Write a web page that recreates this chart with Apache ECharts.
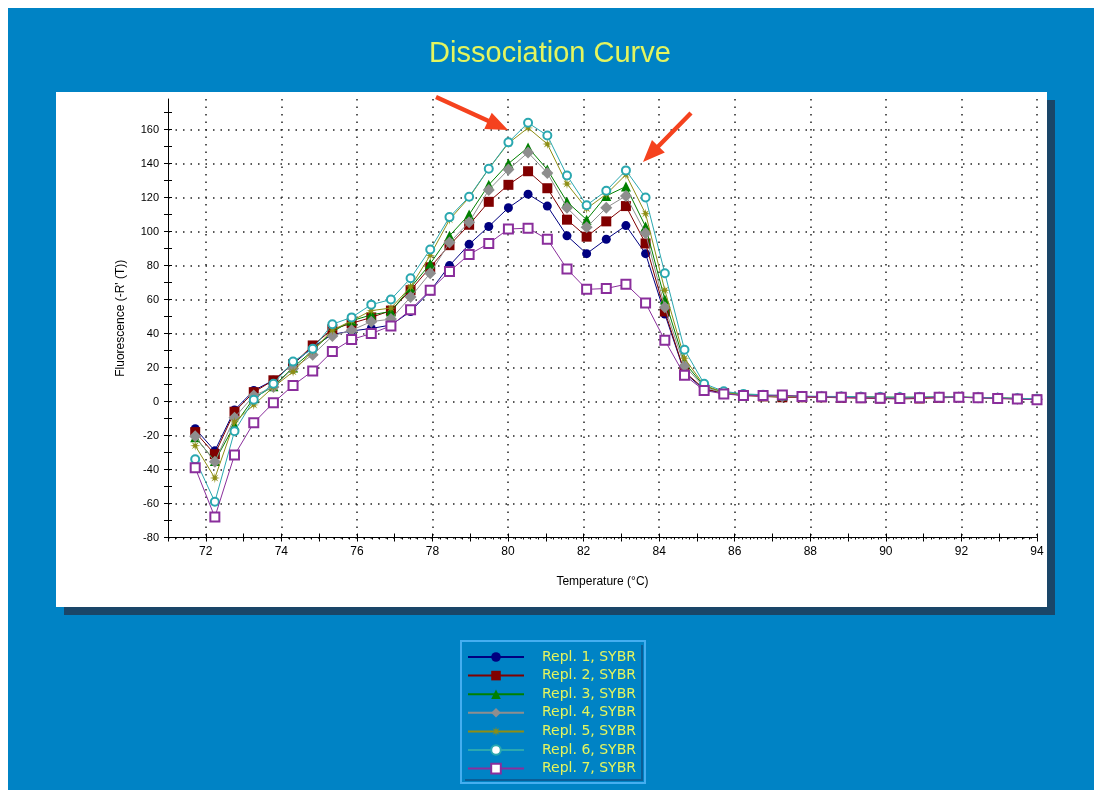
<!DOCTYPE html>
<html>
<head>
<meta charset="utf-8">
<title>Dissociation Curve</title>
<script src="https://cdn.jsdelivr.net/npm/echarts@6/dist/echarts.min.js"></script>
<style>
  html, body { margin: 0; padding: 0; background: #ffffff; }
  #chart { width: 1100px; height: 794px; }
</style>
</head>
<body>
<div id="chart"></div>
<script>
// Melt temperatures (°C) of the readings
const temps = [71.72, 72.24, 72.76, 73.27, 73.79, 74.31, 74.83, 75.35, 75.86, 76.38,
  76.90, 77.42, 77.94, 78.45, 78.97, 79.49, 80.01, 80.53, 81.04, 81.56,
  82.08, 82.60, 83.12, 83.64, 84.15, 84.67, 85.19, 85.71, 86.23, 86.75,
  87.26, 87.78, 88.30, 88.82, 89.34, 89.85, 90.37, 90.89, 91.41, 91.93,
  92.44, 92.96, 93.48, 94.00];

const seriesNames = ['Repl. 1, SYBR', 'Repl. 2, SYBR', 'Repl. 3, SYBR', 'Repl. 4, SYBR',
  'Repl. 5, SYBR', 'Repl. 6, SYBR', 'Repl. 7, SYBR'];

// -R'(T) for each replicate
const repl1 = [-16, -29, -5, 6.5, 12.5, 22, 32, 39.5, 41.5, 43, 45, 53, 65, 80, 92.5, 103, 114, 122, 115, 97.5,
  87, 95.5, 103.5, 87, 51.5, 17, 7, 5, 4, 3.5, 3, 3, 2.8, 2.5, 2.5, 2.2, 2.2, 2.4, 2.5, 2.5, 2.3, 2, 1.6, 1.2];
const repl2 = [-18, -31, -6, 5.5, 12.5, 22, 33, 42.5, 46, 49.5, 53.5, 65.5, 79, 92, 104, 117.5, 127.5, 135.5, 125.5, 107,
  97, 106, 115, 93, 53, 17.5, 7.5, 5, 3.5, 3, 2.5, 2.5, 2.5, 2.2, 2, 1.8, 1.5, 1.8, 2.2, 2.5, 2.2, 1.8, 1.5, 1.2];
const repl3 = [-21, -35, -14, 2, 9, 20, 30, 41, 47.5, 51, 53, 67, 81, 97.5, 110, 127.5, 140, 149.5, 136.5, 117.5,
  107, 121, 126.5, 103, 60, 23, 9, 5.5, 4, 3.5, 3.2, 3, 3, 2.8, 2.7, 2.6, 2.5, 2.5, 2.6, 2.6, 2.4, 2.1, 1.8, 1.5];
const repl4 = [-20.5, -35.5, -9.5, 3.5, 8.5, 19.5, 27.5, 38.5, 42, 47, 48.5, 61.5, 75.5, 93.5, 105.5, 124.5, 136.5, 146.5, 134.5, 114,
  102.5, 114, 121, 99, 55.5, 21, 8.5, 5, 3.8, 3.3, 3, 2.8, 2.8, 2.6, 2.5, 2.4, 2.3, 2.4, 2.5, 2.5, 2.3, 2, 1.7, 1.4];
const repl5 = [-26, -45, -12, -2, 8.5, 17.5, 30, 42, 47.5, 53.5, 55, 67.5, 86, 107, 120, 137, 152, 161, 151.5, 128,
  113.5, 122, 133.5, 110.5, 65.5, 25.5, 9.5, 5.5, 4, 3.5, 3.2, 3, 2.9, 2.8, 2.7, 2.5, 2.4, 2.5, 2.6, 2.6, 2.4, 2.2, 1.8, 1.5];
const repl6 = [-34, -59, -17.5, 1, 10.5, 23.5, 31, 45.5, 49.5, 57, 60, 72.5, 89.5, 108.5, 120.5, 137, 152.5, 164, 156.5, 133,
  115.5, 124, 136, 120, 75.5, 30.5, 10.5, 6, 4.5, 4, 3.5, 3.2, 3, 3, 2.8, 2.6, 2.5, 2.6, 2.7, 2.6, 2.4, 2.2, 1.9, 1.6];
const repl7 = [-39, -68, -31.5, -12.5, -0.7, 9.5, 18, 29.5, 36.5, 40, 44.5, 54, 65.5, 76.5, 86.5, 93, 101.5, 102, 95.5, 78,
  66, 66.5, 69, 58, 36, 15.5, 6.5, 4.5, 3.5, 3.5, 3.8, 3, 2.8, 2.5, 2.2, 2, 1.8, 2.2, 2.5, 2.5, 2.2, 1.8, 1.5, 1];

// Axis tick values
const xLabelVals = [72, 74, 76, 78, 80, 82, 84, 86, 88, 90, 92, 94];
const xTickVals = [71, 72, 73, 74, 75, 76, 77, 78, 79, 80, 81, 82, 83, 84, 85, 86, 87, 88, 89, 90, 91, 92, 93, 94];
const yLabelVals = [-80, -60, -40, -20, 0, 20, 40, 60, 80, 100, 120, 140, 160];
const yTickVals = [-80, -70, -60, -50, -40, -30, -20, -10, 0, 10, 20, 30, 40, 50, 60, 70, 80, 90, 100, 110, 120, 130, 140, 150, 160, 170];

const values = [repl1, repl2, repl3, repl4, repl5, repl6, repl7];

const starPath = 'path://M0,-10 L1.34,-3.23 L7.07,-7.07 L3.23,-1.34 L10,0 L3.23,1.34 L7.07,7.07 L1.34,3.23 L0,10 L-1.34,3.23 L-7.07,7.07 L-3.23,1.34 L-10,0 L-3.23,-1.34 L-7.07,-7.07 L-1.34,-3.23 Z';

const styles = [
  { color: '#000080', symbol: 'circle', size: 9 },
  { color: '#800000', symbol: 'rect', size: 10 },
  { color: '#008000', symbol: 'triangle', size: 10 },
  { color: '#8e8e8e', symbol: 'diamond', size: 12 },
  { color: '#8e8e14', symbol: starPath, size: 10 },
  { color: '#2aa8b0', symbol: 'emptyCircle', size: 8 },
  { color: '#8a2e9c', symbol: 'emptyRect', size: 9 }
];

const BLUE = '#0083c5';
const YELLOW = '#e4f55e';
const tickFont = "'Liberation Sans Narrow', 'Liberation Sans', Arial, sans-serif";

const series = values.map((vals, k) => ({
  name: seriesNames[k],
  type: 'line',
  data: temps.map((t, i) => [t, vals[i]]),
  symbol: styles[k].symbol,
  symbolSize: styles[k].size,
  showAllSymbol: true,
  lineStyle: { color: styles[k].color, width: 1 },
  itemStyle: { color: styles[k].color, borderWidth: 1 },
  emphasis: { disabled: true },
  animation: false,
  z: 3 + k
}));

// red pointer arrows over the two melting peaks
function arrowPoints(tail, tip, headLen, headHalf, shaftHalf) {
  const dx = tip[0] - tail[0], dy = tip[1] - tail[1];
  const len = Math.sqrt(dx * dx + dy * dy);
  const ux = dx / len, uy = dy / len;
  const nx = -uy, ny = ux;
  const bx = tip[0] - ux * headLen, by = tip[1] - uy * headLen;
  return [
    [tail[0] + nx * shaftHalf, tail[1] + ny * shaftHalf],
    [bx + nx * shaftHalf, by + ny * shaftHalf],
    [bx + nx * headHalf, by + ny * headHalf],
    [tip[0], tip[1]],
    [bx - nx * headHalf, by - ny * headHalf],
    [bx - nx * shaftHalf, by - ny * shaftHalf],
    [tail[0] - nx * shaftHalf, tail[1] - ny * shaftHalf]
  ];
}

const chart = echarts.init(document.getElementById('chart'), null, { renderer: 'canvas' });

const baseX = { type: 'value', min: 71, max: 94, position: 'bottom', offset: 0 };
const baseY = { type: 'value', min: -80, max: 178, position: 'left', offset: 0 };

chart.setOption({
  backgroundColor: '#ffffff',
  animation: false,
  title: {
    text: 'Dissociation Curve',
    left: 'center',
    top: 34,
    textStyle: { color: YELLOW, fontSize: 29, fontWeight: 'normal', fontFamily: "'Liberation Sans', Arial, sans-serif" }
  },
  legend: {
    orient: 'vertical',
    left: 462,
    top: 645,
    itemWidth: 56,
    itemHeight: 12,
    itemGap: 4.6,
    selectedMode: false,
    data: seriesNames,
    textStyle: { color: YELLOW, fontSize: 14, lineHeight: 14, fontFamily: 'DejaVu Sans, Verdana, sans-serif', padding: [0, 0, 0, 13] }
  },
  grid: { left: 168, right: 63, top: 99, bottom: 256.5 },
  xAxis: [
    Object.assign({}, baseX, {
      name: 'Temperature (°C)',
      nameLocation: 'middle',
      nameGap: 38,
      nameTextStyle: { color: '#000', fontSize: 12, fontFamily: tickFont },
      axisLine: { show: true, onZero: false, lineStyle: { color: '#000', width: 1 } },
      axisTick: { show: false, customValues: xLabelVals },
      axisLabel: { customValues: xLabelVals, color: '#000', fontSize: 12, margin: 8, fontFamily: tickFont },
      splitLine: { show: true, lineStyle: { color: '#222', width: 1.5, type: [1.5, 6] } }
    }),
    Object.assign({}, baseX, {
      interval: 1,
      axisLine: { show: false, onZero: false },
      axisTick: { show: true, length: 4, customValues: xTickVals, lineStyle: { color: '#000' } },
      minorTick: { show: true, splitNumber: 5, length: 2, lineStyle: { color: '#000' } },
      axisLabel: { show: false },
      splitLine: { show: false }
    }),
    Object.assign({}, baseX, {
      axisLine: { show: false, onZero: false },
      axisTick: { show: true, inside: true, length: 4, customValues: xTickVals, lineStyle: { color: '#000' } },
      axisLabel: { show: false },
      splitLine: { show: false }
    })
  ],
  yAxis: [
    Object.assign({}, baseY, {
      name: "Fluorescence (-R' (T))",
      nameLocation: 'middle',
      nameGap: 41,
      nameRotate: 90,
      nameTextStyle: { color: '#000', fontSize: 12, fontFamily: tickFont },
      axisLine: { show: true, onZero: false, lineStyle: { color: '#000', width: 1 } },
      axisTick: { show: false, customValues: yLabelVals },
      axisLabel: { customValues: yLabelVals, color: '#000', fontSize: 11, margin: 9, fontFamily: tickFont },
      splitLine: { show: true, lineStyle: { color: '#222', width: 1.5, type: [1.5, 6] } }
    }),
    Object.assign({}, baseY, {
      axisLine: { show: false, onZero: false },
      axisTick: { show: true, length: 4, customValues: yTickVals, lineStyle: { color: '#000' } },
      axisLabel: { show: false },
      splitLine: { show: false }
    }),
    Object.assign({}, baseY, {
      axisLine: { show: false, onZero: false },
      axisTick: { show: true, inside: true, length: 4, customValues: yTickVals, lineStyle: { color: '#000' } },
      axisLabel: { show: false },
      splitLine: { show: false }
    })
  ],
  graphic: [
    // blue frame
    { type: 'rect', z: -20, silent: true, shape: { x: 8, y: 8, width: 1086, height: 782 }, style: { fill: BLUE } },
    // panel drop shadow
    { type: 'rect', z: -19, silent: true, shape: { x: 64, y: 100, width: 991, height: 515 }, style: { fill: '#1a4668' } },
    // white plot panel
    { type: 'rect', z: -18, silent: true, shape: { x: 56, y: 92, width: 991, height: 515 }, style: { fill: '#ffffff' } },
    // legend box
    { type: 'rect', z: -17, silent: true, shape: { x: 461, y: 641, width: 184, height: 142 },
      style: { fill: BLUE, stroke: '#45aef0', lineWidth: 2 } },
    { type: 'polyline', z: -16, silent: true, shape: { points: [[465, 780], [642, 780], [642, 645]] },
      style: { stroke: '#0b5d96', lineWidth: 2, fill: null } },
    // pointer arrows
    { type: 'polygon', z: 50, silent: true, shape: { points: arrowPoints([436, 97], [508, 130], 22, 9, 2.2) },
      style: { fill: '#f5421e' } },
    { type: 'polygon', z: 50, silent: true, shape: { points: arrowPoints([691, 113], [643, 162], 22, 9, 2.2) },
      style: { fill: '#f5421e' } }
  ],
  series: series
});
</script>
</body>
</html>
